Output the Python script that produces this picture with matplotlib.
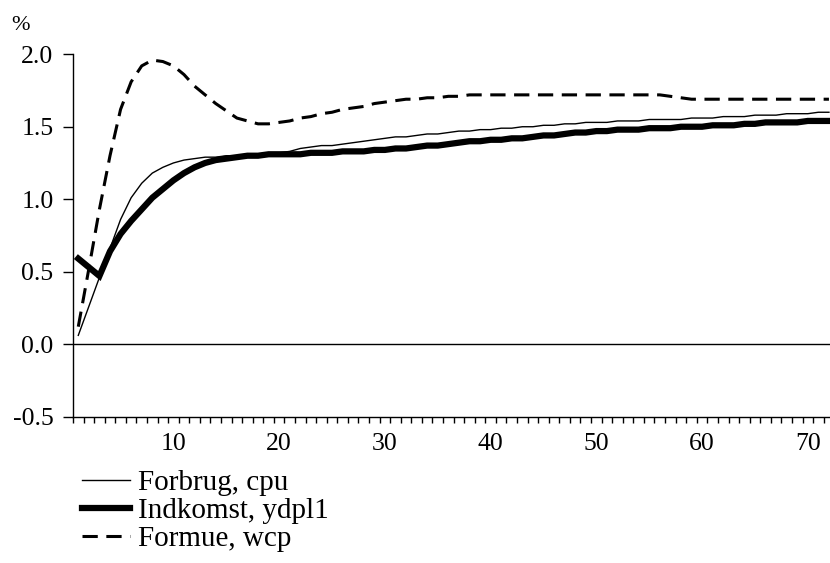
import matplotlib
matplotlib.use("Agg")
import matplotlib.pyplot as plt
import numpy as np

periods = list(range(1, 73))

forbrug_cpu = [0.06, 0.26, 0.46, 0.66, 0.86, 1.01, 1.11, 1.18, 1.22, 1.25,
               1.27, 1.28, 1.29, 1.29, 1.30, 1.30, 1.31, 1.31, 1.32, 1.32,
               1.33, 1.35, 1.36, 1.37, 1.37, 1.38, 1.39, 1.40, 1.41, 1.42,
               1.43, 1.43, 1.44, 1.45, 1.45, 1.46, 1.47, 1.47, 1.48, 1.48,
               1.49, 1.49, 1.50, 1.50, 1.51, 1.51, 1.52, 1.52, 1.53, 1.53,
               1.53, 1.54, 1.54, 1.54, 1.55, 1.55, 1.55, 1.55, 1.56, 1.56,
               1.56, 1.57, 1.57, 1.57, 1.58, 1.58, 1.58, 1.59, 1.59, 1.59,
               1.60, 1.60]

indkomst_ydpl1 = [0.59, 0.53, 0.47, 0.64, 0.76, 0.85, 0.93, 1.01, 1.07, 1.13,
                  1.18, 1.22, 1.25, 1.27, 1.28, 1.29, 1.30, 1.30, 1.31, 1.31,
                  1.31, 1.31, 1.32, 1.32, 1.32, 1.33, 1.33, 1.33, 1.34, 1.34,
                  1.35, 1.35, 1.36, 1.37, 1.37, 1.38, 1.39, 1.40, 1.40, 1.41,
                  1.41, 1.42, 1.42, 1.43, 1.44, 1.44, 1.45, 1.46, 1.46, 1.47,
                  1.47, 1.48, 1.48, 1.48, 1.49, 1.49, 1.49, 1.50, 1.50, 1.50,
                  1.51, 1.51, 1.51, 1.52, 1.52, 1.53, 1.53, 1.53, 1.53, 1.54,
                  1.54, 1.54]

formue_wcp = [0.12, 0.52, 0.93, 1.30, 1.62, 1.81, 1.92, 1.96, 1.95, 1.92,
              1.86, 1.78, 1.72, 1.66, 1.61, 1.56, 1.54, 1.52, 1.52, 1.53,
              1.54, 1.56, 1.57, 1.59, 1.60, 1.62, 1.63, 1.64, 1.66, 1.67,
              1.68, 1.69, 1.69, 1.70, 1.70, 1.71, 1.71, 1.72, 1.72, 1.72,
              1.72, 1.72, 1.72, 1.72, 1.72, 1.72, 1.72, 1.72, 1.72, 1.72,
              1.72, 1.72, 1.72, 1.72, 1.72, 1.72, 1.71, 1.70, 1.69, 1.69,
              1.69, 1.69, 1.69, 1.69, 1.69, 1.69, 1.69, 1.69, 1.69, 1.69,
              1.69, 1.69]

series_labels = ["Forbrug, cpu", "Indkomst, ydpl1", "Formue, wcp"]
x_tick_labels = [10, 20, 30, 40, 50, 60, 70]
y_ticks = [-0.5, 0.0, 0.5, 1.0, 1.5, 2.0]

plt.rcParams['font.family'] = ['Liberation Serif', 'DejaVu Serif']
plt.rcParams['axes.unicode_minus'] = False

fig = plt.figure(figsize=(8.30, 5.63), dpi=100)
ax = fig.add_axes([73.0 / 830, (563 - 416.5) / 563, 1 - 73.0 / 830, (416.5 - 54.3) / 563])

ax.plot(periods, forbrug_cpu, color='black', lw=1.0, label=series_labels[0], zorder=3)
ax.plot(periods, indkomst_ydpl1, color='black', lw=4.5, label=series_labels[1],
        solid_joinstyle='miter', zorder=4)
ax.plot(periods, formue_wcp, color='black', lw=2.2, dashes=(5, 2.8),
        label=series_labels[2], zorder=5)

ax.axhline(0, color='black', lw=1.0, zorder=2)

ax.set_xlim(0.5, 72.1)
ax.set_ylim(-0.5, 2.0)

for s in ['top', 'right']:
    ax.spines[s].set_visible(False)
for s in ['left', 'bottom']:
    ax.spines[s].set_linewidth(1.0)

ax.set_xticks(x_tick_labels)
ax.set_xticklabels([str(v) for v in x_tick_labels])
ax.set_xticks(np.arange(0.5, 72.0, 1.0), minor=True)
ax.tick_params(axis='x', which='major', length=0, pad=12, labelsize=18.5)
ax.tick_params(axis='x', which='minor', length=4.5, width=1.0, direction='out')

ax.set_yticks(y_ticks)
ax.set_yticklabels([f"{v:.1f}" for v in y_ticks])
ax.tick_params(axis='y', which='major', length=7, width=1.0, pad=7, labelsize=18.5)

fig.text(20 / 830, 1 - 26 / 563, "%", ha='center', va='center', fontsize=16)

leg = fig.legend(loc='upper left', bbox_to_anchor=(82 / 830, 1 - 470 / 563),
                 frameon=False, fontsize=21, handlelength=1.65, handletextpad=0.28,
                 labelspacing=0.05, borderaxespad=0, borderpad=0)

fig.savefig("out.png", dpi=100)
